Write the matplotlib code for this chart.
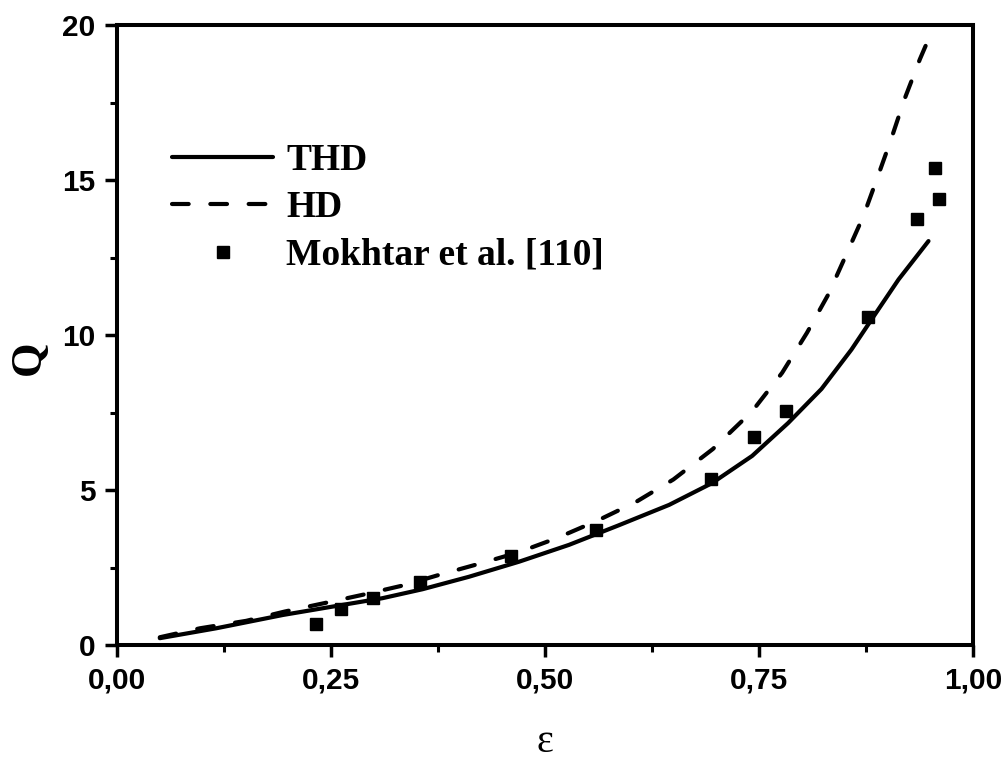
import matplotlib
matplotlib.use("Agg")
import matplotlib.pyplot as plt
from matplotlib.ticker import FuncFormatter, MultipleLocator

# THD curve (solid)
thd_x = [0.050, 0.116, 0.194, 0.252, 0.310, 0.357, 0.411, 0.470, 0.528, 0.586,
         0.645, 0.695, 0.742, 0.784, 0.823, 0.858, 0.881, 0.913, 0.948]
thd_y = [0.22, 0.54, 0.97, 1.24, 1.51, 1.80, 2.20, 2.69, 3.23, 3.86,
         4.52, 5.22, 6.10, 7.16, 8.26, 9.53, 10.48, 11.79, 13.03]

# HD curve (dashed)
hd_x = [0.050, 0.097, 0.151, 0.196, 0.242, 0.287, 0.334, 0.376, 0.423, 0.468,
        0.514, 0.561, 0.606, 0.650, 0.696, 0.742, 0.777, 0.806, 0.831, 0.852,
        0.872, 0.889, 0.905, 0.920, 0.938, 0.945]
hd_y = [0.25, 0.54, 0.78, 1.08, 1.35, 1.62, 1.92, 2.26, 2.62, 2.98,
        3.45, 4.01, 4.61, 5.34, 6.32, 7.54, 8.78, 10.07, 11.31, 12.60,
        13.84, 15.13, 16.37, 17.61, 18.90, 19.35]

# Mokhtar et al. [110] experimental points
exp_x = [0.233, 0.262, 0.299, 0.354, 0.460, 0.559, 0.694, 0.744, 0.781, 0.877,
         0.934, 0.956, 0.960]
exp_y = [0.68, 1.15, 1.53, 2.03, 2.88, 3.72, 5.36, 6.71, 7.56, 10.59,
         13.73, 15.38, 14.38]

fig = plt.figure(figsize=(10.06, 7.6), dpi=100)
ax = fig.add_axes([0.1163, 0.1513, 0.9672 - 0.1163, 0.9671 - 0.1513])

lw = 3.0
ax.plot(thd_x, thd_y, color="black", lw=lw, solid_capstyle="round",
        solid_joinstyle="round", label="THD")
ax.plot(hd_x, hd_y, color="black", lw=lw, linestyle=(0, (4.0, 5.2)),
        dash_capstyle="round", dash_joinstyle="round", label="HD")
ax.plot(exp_x, exp_y, linestyle="none", marker="s", markersize=9,
        color="black", label="Mokhtar et al. [110]")

ax.set_xlim(0, 1.0)
ax.set_ylim(0, 20)
ax.xaxis.set_major_locator(MultipleLocator(0.25))
ax.xaxis.set_minor_locator(MultipleLocator(0.125))
ax.yaxis.set_major_locator(MultipleLocator(5))
ax.yaxis.set_minor_locator(MultipleLocator(2.5))
ax.xaxis.set_major_formatter(FuncFormatter(lambda v, p: f"{v:.2f}".replace(".", ",")))
ax.yaxis.set_major_formatter(FuncFormatter(lambda v, p: f"{v:.0f}"))

for s in ax.spines.values():
    s.set_linewidth(2.9)
ax.tick_params(which="major", direction="out", length=8.5, width=2.5, pad=7,
               top=False, right=False)
ax.tick_params(which="minor", direction="out", length=5, width=2.2,
               top=False, right=False)
for lab in ax.get_xticklabels() + ax.get_yticklabels():
    lab.set_fontfamily("Liberation Sans")
    lab.set_fontweight("bold")
    lab.set_fontsize(21.5)

fig.text(29 / 1006, 1 - 358 / 760, "Q", rotation=90, ha="center", va="center",
         fontsize=32, fontfamily="Liberation Serif", fontweight="bold")
fig.text(545 / 1006, 1 - 743 / 760, "ε", ha="center", va="center",
         fontsize=29, fontfamily="Liberation Serif")

leg = ax.legend(loc="upper left", bbox_to_anchor=(172 / 1006, 1 - 143 / 760),
                bbox_transform=fig.transFigure, frameon=False,
                prop={"family": "Liberation Serif", "weight": "bold", "size": 27},
                handlelength=2.7, handletextpad=0.35, labelspacing=0.33,
                borderpad=0, borderaxespad=0)

fig.savefig("out.png", dpi=100)
